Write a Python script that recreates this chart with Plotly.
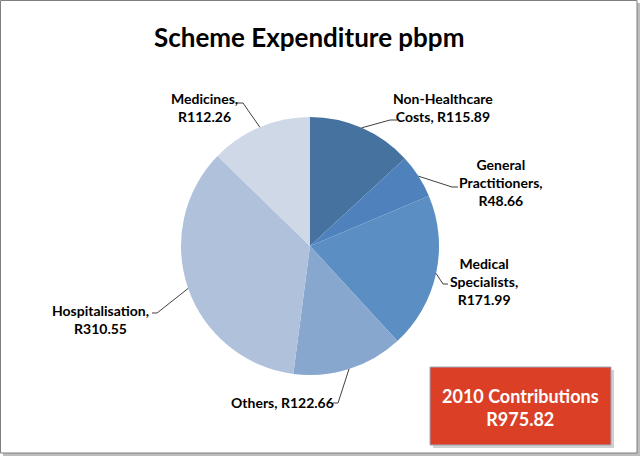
import math

import plotly.graph_objects as go

# slices, clockwise from 12 o'clock
categories = [
    "Non-Healthcare Costs",
    "General Practitioners",
    "Medical Specialists",
    "Others",
    "Hospitalisation",
    "Medicines",
]
values = [115.89, 48.66, 171.99, 122.66, 310.55, 112.26]
label_text = [
    "Non-Healthcare<br>Costs, R115.89",
    "General<br>Practitioners,<br>R48.66",
    "Medical<br>Specialists,<br>R171.99",
    "Others, R122.66",
    "Hospitalisation,<br>R310.55",
    "Medicines,<br>R112.26",
]
slice_colors = ["#46729f", "#4f81bd", "#5b8fc4", "#87a7cf", "#b0c1dc", "#ced8e7"]
contribution_year = 2010
contribution_total = 975.82

W, H = 640, 456
CX, CY, R = 310, 246, 129
FONT = "Lato"

# label centre (px), elbow start near text, elbow corner
label_layout = [
    {"pos": (443, 107), "a": (397, 120), "b": (390, 120)},
    {"pos": (501, 182), "a": (458, 187), "b": (452, 187)},
    {"pos": (484, 281), "a": (448, 284), "b": (443, 284)},
    {"pos": (282, 402), "a": (333, 403), "b": (338, 403)},
    {"pos": (100, 319), "a": (152, 313), "b": (157, 313)},
    {"pos": (204, 107), "a": (236, 103), "b": (243, 103)},
]


def px(x, y):
    return x / W, 1 - y / H


def slice_edge(index):
    total = sum(values)
    before = sum(values[:index])
    frac = (before + values[index] / 2) / total
    ang = 2 * math.pi * frac
    return CX + R * math.sin(ang), CY - R * math.cos(ang)


fig = go.Figure(
    go.Pie(
        labels=categories,
        values=values,
        sort=False,
        direction="clockwise",
        rotation=0,
        textinfo="none",
        hoverinfo="label+value",
        marker={"colors": slice_colors, "line": {"width": 0}},
        domain={
            "x": [(CX - R) / W, (CX + R) / W],
            "y": [1 - (CY + R) / H, 1 - (CY - R) / H],
        },
        showlegend=False,
    )
)

shapes = []
annotations = []
for i, text in enumerate(label_text):
    spec = label_layout[i]
    ex, ey = slice_edge(i)
    pts = [px(*spec["a"]), px(*spec["b"]), px(ex, ey)]
    path = "M {} {} L {} {} L {} {}".format(*[c for p in pts for c in p])
    shapes.append({
        "type": "path", "path": path, "xref": "paper", "yref": "paper",
        "line": {"color": "#404040", "width": 1},
    })
    lx, ly = px(*spec["pos"])
    annotations.append({
        "x": lx, "y": ly, "xref": "paper", "yref": "paper",
        "text": "<b>" + text + "</b>", "showarrow": False,
        "xanchor": "center", "yanchor": "middle", "align": "center",
        "font": {"family": FONT, "size": 14, "color": "#000000"},
    })

# title
tx, ty = px(309, 37)
annotations.append({
    "x": tx, "y": ty, "xref": "paper", "yref": "paper",
    "text": "<b>Scheme Expenditure pbpm</b>", "showarrow": False,
    "xanchor": "center", "yanchor": "middle",
    "font": {"family": FONT, "size": 26, "color": "#000000"},
})

# contributions box
bx0, by0 = px(430, 367)
bx1, by1 = px(611, 445)
sx0, sy0 = px(433, 370)
sx1, sy1 = px(614, 448)
shapes.append({
    "type": "rect", "xref": "paper", "yref": "paper",
    "x0": sx0, "y0": sy0, "x1": sx1, "y1": sy1,
    "fillcolor": "rgba(0,0,0,0.18)", "line": {"width": 0},
})
shapes.append({
    "type": "rect", "xref": "paper", "yref": "paper",
    "x0": bx0, "y0": by0, "x1": bx1, "y1": by1,
    "fillcolor": "#db3f26", "line": {"color": "#9aa9c4", "width": 1},
})
cx, cy = px(520.5, 407)
annotations.append({
    "x": cx, "y": cy, "xref": "paper", "yref": "paper",
    "text": f"<b>{contribution_year} Contributions<br>R{contribution_total:.2f}</b>",
    "showarrow": False, "xanchor": "center", "yanchor": "middle", "align": "center",
    "font": {"family": FONT, "size": 18, "color": "#ffffff"},
})

# outer frame with a soft shadow
shapes.insert(0, {
    "type": "rect", "xref": "paper", "yref": "paper",
    "x0": 3 / W, "y0": 0, "x1": 1, "y1": 1 - 3 / H,
    "fillcolor": "#bdbdbd", "line": {"width": 0}, "layer": "below",
})
shapes.insert(1, {
    "type": "rect", "xref": "paper", "yref": "paper",
    "x0": 0.5 / W, "y0": 3 / H, "x1": 1 - 3 / W, "y1": 1 - 0.5 / H,
    "fillcolor": "#ffffff", "line": {"color": "#7f7f7f", "width": 1}, "layer": "below",
})

fig.update_layout(
    width=W,
    height=H,
    margin={"l": 0, "r": 0, "t": 0, "b": 0},
    paper_bgcolor="#ffffff",
    plot_bgcolor="#ffffff",
    shapes=shapes,
    annotations=annotations,
)

fig.write_html(
    "out.html",
    config={"displayModeBar": False},
    post_script="document.body.style.margin='0';document.body.style.overflow='hidden';",
)
